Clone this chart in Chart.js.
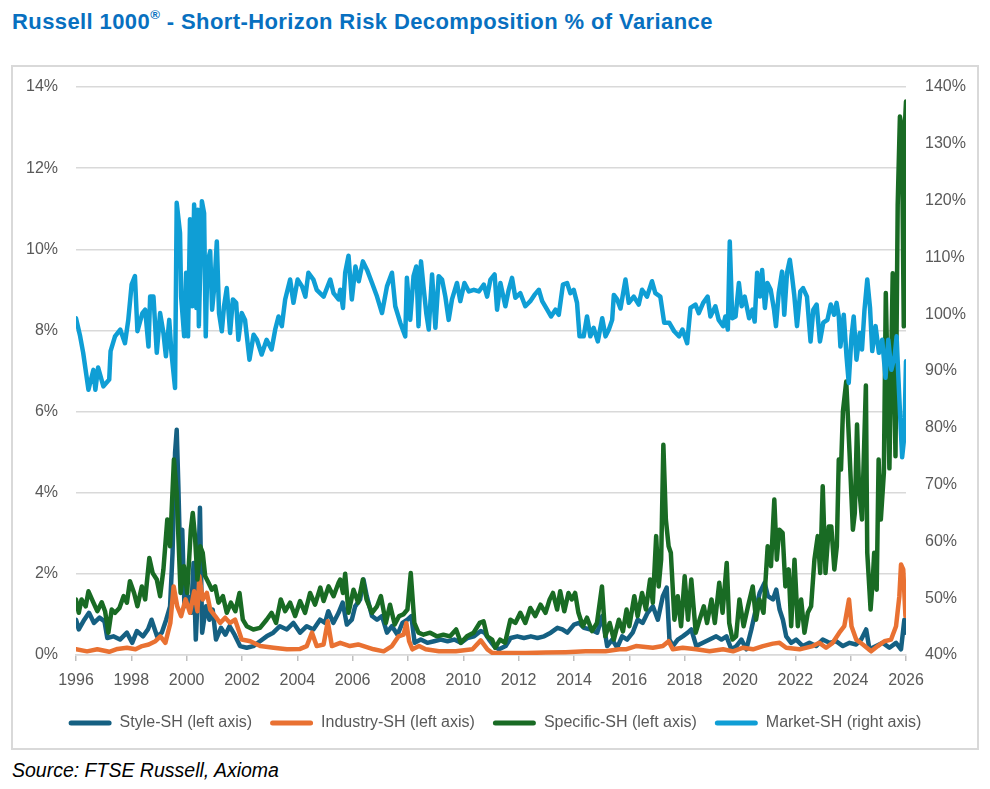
<!DOCTYPE html>
<html>
<head>
<meta charset="utf-8">
<title>Russell 1000 - Short-Horizon Risk Decomposition</title>
<script src="https://cdn.jsdelivr.net/npm/chart.js@4.4.1/dist/chart.umd.min.js"></script>
<style>
    html, body { margin: 0; padding: 0; background: #fff; }
    body { width: 990px; height: 789px; position: relative; overflow: hidden; font-family: "Liberation Sans", Arial, sans-serif; }
    #title { position: absolute; left: 12px; top: 11px; font-size: 22px; line-height: 22px; letter-spacing: 0.4px; font-weight: bold; color: #0870c0; white-space: nowrap; }
    #title sup { font-size: 0.6em; line-height: 0; vertical-align: 0.75em; }
    #box { position: absolute; left: 11px; top: 65px; width: 968px; height: 685px; border: 2px solid #d9d9d9; box-sizing: border-box; }
    #chart { position: absolute; left: 0; top: 0; }
    #source { position: absolute; left: 12px; top: 760px; font-size: 19.5px; line-height: 20px; font-style: italic; color: #000; white-space: nowrap; }
</style>
</head>
<body>
<div id="title">Russell 1000<sup>®</sup> - Short-Horizon Risk Decomposition % of Variance</div>
<div id="box"><canvas id="chart" width="964" height="681"></canvas></div>
<div id="source">Source: FTSE Russell, Axioma</div>
<script>
// x = date as decimal year, y = % of variance
const styleSH = [
    [1996.00,0.87],[1996.10,0.63],[1996.30,0.87],[1996.47,1.04],[1996.65,0.79],[1996.85,0.92],[1997.03,0.83],[1997.13,0.42],
    [1997.35,0.46],[1997.59,0.38],[1997.84,0.55],[1998.03,0.30],[1998.20,0.59],[1998.42,0.46],[1998.60,0.63],[1998.73,0.87],
    [1998.93,0.46],[1999.10,0.55],[1999.26,0.87],[1999.40,1.20],[1999.49,2.52],[1999.58,4.98],[1999.64,5.55],[1999.70,4.16],
    [1999.76,2.52],[1999.84,3.09],[1999.92,1.20],[2000.04,1.45],[2000.16,1.04],[2000.25,2.27],[2000.33,0.38],[2000.40,1.45],
    [2000.48,3.63],[2000.56,0.55],[2000.70,1.20],[2000.82,0.87],[2000.94,1.12],[2001.06,0.38],[2001.24,0.67],[2001.40,0.50],
    [2001.55,0.71],[2001.73,0.50],[2001.93,0.22],[2002.17,0.18],[2002.41,0.22],[2002.65,0.34],[2002.89,0.46],[2003.13,0.55],
    [2003.37,0.71],[2003.62,0.63],[2003.86,0.79],[2004.10,0.55],[2004.34,0.71],[2004.58,0.63],[2004.82,0.87],[2005.00,0.79],
    [2005.12,1.08],[2005.30,0.79],[2005.49,1.04],[2005.64,1.29],[2005.79,0.75],[2005.97,0.87],[2006.09,1.20],[2006.27,1.37],
    [2006.39,1.86],[2006.51,1.45],[2006.70,0.96],[2006.88,0.87],[2007.06,0.96],[2007.24,0.55],[2007.42,0.71],[2007.62,0.50],
    [2007.80,0.79],[2007.98,0.87],[2008.12,0.96],[2008.24,0.30],[2008.46,0.38],[2008.70,0.30],[2008.94,0.34],[2009.18,0.38],
    [2009.43,0.34],[2009.67,0.38],[2009.91,0.30],[2010.15,0.42],[2010.39,0.46],[2010.63,0.59],[2010.77,0.55],[2010.93,0.38],
    [2011.11,0.22],[2011.29,0.14],[2011.53,0.22],[2011.71,0.42],[2011.95,0.46],[2012.19,0.42],[2012.44,0.46],[2012.68,0.42],
    [2012.92,0.46],[2013.16,0.55],[2013.40,0.67],[2013.58,0.63],[2013.76,0.55],[2014.00,0.75],[2014.18,0.79],[2014.36,0.67],
    [2014.60,0.63],[2014.84,0.55],[2015.02,0.96],[2015.20,0.22],[2015.38,0.38],[2015.56,0.18],[2015.74,0.46],[2015.92,0.38],
    [2016.12,0.55],[2016.30,0.87],[2016.48,0.79],[2016.66,1.04],[2016.85,1.20],[2017.03,0.87],[2017.21,1.45],[2017.35,1.66],
    [2017.45,0.38],[2017.57,0.22],[2017.75,0.38],[2017.93,0.46],[2018.11,0.55],[2018.24,0.63],[2018.42,0.22],[2018.66,0.30],
    [2018.90,0.38],[2019.14,0.46],[2019.33,0.38],[2019.51,0.46],[2019.69,0.14],[2019.87,0.22],[2020.05,0.38],[2020.23,0.14],
    [2020.41,0.63],[2020.53,1.00],[2020.71,1.53],[2020.89,1.78],[2021.01,1.45],[2021.19,1.37],[2021.31,1.61],[2021.43,1.12],
    [2021.55,0.87],[2021.67,0.46],[2021.85,0.30],[2022.03,0.38],[2022.27,0.22],[2022.51,0.30],[2022.75,0.22],[2022.99,0.38],
    [2023.23,0.30],[2023.47,0.34],[2023.72,0.22],[2023.96,0.30],[2024.20,0.26],[2024.38,0.38],[2024.56,0.63],[2024.68,0.14],
    [2024.92,0.22],[2025.16,0.30],[2025.40,0.18],[2025.64,0.30],[2025.82,0.14],[2025.94,0.87],[2026.00,0.55]
]

const industrySH = [
    [1996.00,0.14],[1996.40,0.09],[1996.77,0.14],[1997.20,0.08],[1997.50,0.15],[1997.84,0.18],[1998.15,0.14],[1998.39,0.22],
    [1998.63,0.26],[1998.87,0.34],[1999.05,0.46],[1999.23,0.30],[1999.41,0.79],[1999.53,1.69],[1999.66,1.20],[1999.80,0.96],
    [1999.96,1.37],[2000.12,1.04],[2000.27,1.57],[2000.39,1.08],[2000.46,1.94],[2000.58,1.37],[2000.73,1.53],[2000.85,1.12],
    [2001.03,0.96],[2001.21,0.79],[2001.39,0.92],[2001.57,0.79],[2001.75,0.87],[2001.87,0.63],[2001.99,0.38],[2002.30,0.34],
    [2002.66,0.22],[2003.14,0.18],[2003.62,0.14],[2004.10,0.15],[2004.34,0.22],[2004.53,0.55],[2004.70,0.22],[2004.95,0.26],
    [2005.10,0.83],[2005.25,0.22],[2005.55,0.30],[2005.90,0.22],[2006.20,0.26],[2006.76,0.14],[2007.12,0.09],[2007.42,0.22],
    [2007.66,0.46],[2007.84,0.50],[2007.94,0.79],[2008.04,0.34],[2008.16,0.14],[2008.40,0.22],[2008.64,0.14],[2009.12,0.09],
    [2009.73,0.09],[2010.33,0.14],[2010.63,0.36],[2010.87,0.14],[2011.05,0.05],[2011.53,0.05],[2012.26,0.05],[2012.98,0.06],
    [2013.70,0.07],[2014.42,0.09],[2015.14,0.09],[2015.64,0.14],[2015.87,0.14],[2016.24,0.22],[2016.85,0.18],[2017.21,0.22],
    [2017.42,0.34],[2017.57,0.14],[2017.93,0.18],[2018.42,0.14],[2018.90,0.09],[2019.39,0.14],[2019.75,0.09],[2020.11,0.18],
    [2020.47,0.14],[2020.83,0.22],[2021.19,0.28],[2021.43,0.30],[2021.67,0.18],[2022.15,0.14],[2022.63,0.22],[2022.87,0.30],
    [2023.11,0.18],[2023.35,0.30],[2023.59,0.55],[2023.77,0.71],[2023.94,1.37],[2024.03,0.71],[2024.20,0.38],[2024.44,0.26],
    [2024.74,0.09],[2024.98,0.22],[2025.22,0.34],[2025.46,0.38],[2025.64,0.71],[2025.76,1.45],[2025.82,2.23],[2025.90,2.11],
    [2025.98,0.96],[2026.00,1.80]
]

const specificSH = [
    [1996.00,1.37],[1996.10,1.04],[1996.20,1.37],[1996.35,1.20],[1996.45,1.57],[1996.63,1.29],[1996.77,1.08],[1996.93,1.30],
    [1997.05,1.08],[1997.17,0.55],[1997.29,1.12],[1997.41,1.04],[1997.57,1.16],[1997.72,1.45],[1997.84,1.29],[1997.95,1.82],
    [1998.10,1.53],[1998.22,1.20],[1998.38,1.69],[1998.50,1.37],[1998.65,2.39],[1998.77,2.02],[1998.92,1.86],[1999.04,1.45],
    [1999.16,2.11],[1999.30,3.34],[1999.40,2.68],[1999.54,4.82],[1999.64,4.00],[1999.70,2.93],[1999.78,1.53],[1999.90,2.19],
    [2000.02,1.53],[2000.15,3.09],[2000.22,3.50],[2000.30,2.93],[2000.39,1.86],[2000.49,2.68],[2000.58,2.52],[2000.67,1.94],
    [2000.79,1.78],[2000.91,1.61],[2001.03,1.69],[2001.15,1.29],[2001.31,1.45],[2001.45,1.04],[2001.60,1.29],[2001.76,1.08],
    [2001.91,1.53],[2002.03,0.87],[2002.17,0.71],[2002.41,0.63],[2002.65,0.67],[2002.89,0.87],[2003.07,1.04],[2003.23,0.79],
    [2003.40,1.37],[2003.56,1.08],[2003.74,1.29],[2003.92,0.96],[2004.10,1.33],[2004.28,1.04],[2004.46,1.53],[2004.64,1.24],
    [2004.83,1.66],[2004.95,1.33],[2005.13,1.69],[2005.31,1.45],[2005.49,1.78],[2005.55,1.86],[2005.65,1.53],[2005.73,2.00],
    [2005.85,1.04],[2006.03,1.61],[2006.20,1.29],[2006.37,1.86],[2006.50,1.37],[2006.70,1.04],[2006.88,1.20],[2007.02,1.45],
    [2007.20,0.79],[2007.35,1.24],[2007.52,0.75],[2007.68,0.96],[2007.83,1.00],[2007.98,1.12],[2008.10,2.02],[2008.23,0.79],
    [2008.38,0.55],[2008.56,0.50],[2008.80,0.55],[2009.04,0.46],[2009.28,0.50],[2009.52,0.46],[2009.74,0.63],[2009.91,0.30],
    [2010.13,0.46],[2010.37,0.55],[2010.59,0.79],[2010.73,0.83],[2010.86,0.46],[2011.04,0.38],[2011.15,0.18],[2011.33,0.38],
    [2011.51,0.30],[2011.70,0.87],[2011.88,0.79],[2012.06,1.04],[2012.24,0.79],[2012.42,1.16],[2012.60,0.96],[2012.79,1.24],
    [2012.97,1.04],[2013.12,1.37],[2013.24,1.53],[2013.39,1.12],[2013.50,1.57],[2013.65,1.08],[2013.80,1.53],[2013.92,1.37],
    [2014.04,1.53],[2014.16,1.04],[2014.32,0.71],[2014.47,0.92],[2014.65,0.59],[2014.83,0.79],[2015.01,1.69],[2015.13,0.46],
    [2015.29,0.79],[2015.44,0.38],[2015.62,0.87],[2015.77,0.58],[2015.90,1.12],[2016.00,0.71],[2016.18,1.45],[2016.30,0.96],
    [2016.46,1.53],[2016.60,1.12],[2016.75,1.86],[2016.85,1.29],[2016.97,2.93],[2017.06,1.69],[2017.15,2.35],[2017.23,5.18],
    [2017.32,3.34],[2017.42,2.68],[2017.50,2.52],[2017.63,0.87],[2017.75,1.45],[2017.87,0.71],[2018.00,1.94],[2018.12,0.87],
    [2018.24,1.86],[2018.40,0.55],[2018.54,0.87],[2018.69,1.20],[2018.81,0.79],[2018.97,1.37],[2019.09,0.79],[2019.25,1.78],
    [2019.37,1.04],[2019.52,2.27],[2019.61,0.79],[2019.73,0.38],[2019.86,0.46],[2019.98,1.37],[2020.13,0.71],[2020.29,1.20],
    [2020.46,1.69],[2020.58,0.87],[2020.70,1.37],[2020.85,1.04],[2021.00,2.68],[2021.12,2.19],[2021.24,3.83],[2021.33,2.35],
    [2021.42,3.09],[2021.54,3.01],[2021.64,1.69],[2021.76,2.11],[2021.85,0.71],[2021.97,2.35],[2022.09,0.71],[2022.21,1.37],
    [2022.33,0.55],[2022.45,1.04],[2022.57,1.20],[2022.69,2.35],[2022.81,2.93],[2022.90,2.02],[2022.99,4.16],[2023.09,2.02],
    [2023.21,3.17],[2023.30,3.17],[2023.41,2.11],[2023.50,2.68],[2023.57,4.82],[2023.65,4.57],[2023.72,6.00],[2023.84,6.74],
    [2023.96,4.98],[2024.08,3.09],[2024.15,3.50],[2024.23,5.68],[2024.30,4.16],[2024.41,3.34],[2024.55,6.64],[2024.60,2.52],
    [2024.72,1.12],[2024.80,1.86],[2024.85,2.52],[2024.94,1.61],[2025.01,4.82],[2025.09,3.34],[2025.20,4.49],[2025.27,8.92],
    [2025.40,4.60],[2025.52,9.41],[2025.62,4.90],[2025.70,11.10],[2025.78,13.27],[2025.85,13.00],[2025.92,8.10],[2025.97,13.20],
    [2026.00,13.64]
]

const marketSH = [
    [1996.00,99.3],[1996.15,96.1],[1996.26,93.2],[1996.45,86.7],[1996.63,90.2],[1996.70,86.7],[1996.80,90.6],[1996.99,87.3],
    [1997.20,88.5],[1997.25,93.5],[1997.41,96.1],[1997.60,97.3],[1997.77,94.9],[1997.89,99.0],[1998.01,105.2],[1998.13,106.7],
    [1998.22,97.0],[1998.40,100.2],[1998.50,100.8],[1998.62,94.3],[1998.68,103.1],[1998.80,103.1],[1998.92,93.2],[1999.04,100.2],
    [1999.16,96.7],[1999.25,92.6],[1999.37,99.0],[1999.45,93.2],[1999.58,87.0],[1999.64,119.6],[1999.76,114.3],[1999.80,103.1],
    [1999.91,96.1],[1999.98,107.3],[2000.05,96.1],[2000.12,116.7],[2000.20,101.4],[2000.27,119.3],[2000.35,101.1],[2000.40,118.4],
    [2000.44,97.9],[2000.55,119.9],[2000.63,117.8],[2000.69,96.1],[2000.75,109.0],[2000.85,111.1],[2000.92,100.8],[2001.00,104.9],
    [2001.09,112.8],[2001.17,100.2],[2001.27,97.0],[2001.35,101.4],[2001.45,104.6],[2001.57,96.7],[2001.67,102.6],[2001.79,102.0],
    [2001.87,95.5],[2001.99,100.2],[2002.11,99.0],[2002.27,92.0],[2002.42,96.4],[2002.54,95.5],[2002.71,92.9],[2002.89,95.5],
    [2003.07,93.8],[2003.20,97.3],[2003.32,99.6],[2003.44,97.9],[2003.56,102.6],[2003.74,106.1],[2003.86,102.0],[2004.01,106.1],
    [2004.17,104.9],[2004.29,103.1],[2004.40,107.3],[2004.58,106.1],[2004.70,104.3],[2004.95,103.1],[2005.19,106.1],[2005.31,103.7],
    [2005.49,102.6],[2005.55,104.3],[2005.65,101.1],[2005.73,107.3],[2005.85,110.3],[2005.97,102.6],[2006.10,108.4],[2006.22,105.8],
    [2006.37,109.3],[2006.52,107.8],[2006.70,105.5],[2006.88,103.1],[2007.06,100.2],[2007.24,104.9],[2007.42,107.3],[2007.54,101.4],
    [2007.72,98.5],[2007.90,96.1],[2007.96,106.4],[2008.08,99.0],[2008.20,106.7],[2008.30,108.4],[2008.38,97.9],[2008.47,109.3],
    [2008.56,104.9],[2008.66,100.2],[2008.75,97.3],[2008.87,107.0],[2008.99,97.6],[2009.11,106.7],[2009.23,106.1],[2009.35,103.1],
    [2009.47,99.0],[2009.59,102.6],[2009.77,105.5],[2009.89,102.3],[2010.04,105.5],[2010.20,104.0],[2010.38,104.3],[2010.56,104.0],
    [2010.74,105.2],[2010.86,103.1],[2010.98,106.1],[2011.13,107.0],[2011.22,100.8],[2011.34,105.5],[2011.52,101.4],[2011.64,104.3],
    [2011.76,106.4],[2011.88,102.9],[2012.06,103.7],[2012.24,101.4],[2012.42,102.3],[2012.57,103.4],[2012.73,104.3],[2012.85,102.3],
    [2013.03,100.8],[2013.17,99.6],[2013.33,100.8],[2013.45,99.9],[2013.60,105.2],[2013.75,105.5],[2013.87,103.7],[2013.99,104.3],
    [2014.11,102.0],[2014.20,96.1],[2014.35,96.1],[2014.47,99.6],[2014.59,96.1],[2014.71,97.6],[2014.86,95.2],[2015.02,99.3],
    [2015.14,96.1],[2015.26,97.3],[2015.38,99.0],[2015.44,103.4],[2015.56,102.6],[2015.68,101.0],[2015.86,106.1],[2015.98,102.0],
    [2016.16,103.1],[2016.34,101.7],[2016.46,104.3],[2016.64,103.1],[2016.82,105.8],[2016.94,103.7],[2017.12,103.1],[2017.26,98.5],
    [2017.44,98.5],[2017.62,97.0],[2017.80,96.1],[2017.92,97.3],[2018.09,94.9],[2018.21,101.1],[2018.39,101.7],[2018.51,100.2],
    [2018.67,102.0],[2018.83,103.1],[2018.93,99.6],[2019.11,101.4],[2019.23,99.0],[2019.39,97.9],[2019.47,99.6],[2019.56,97.3],
    [2019.63,112.8],[2019.72,99.3],[2019.84,99.6],[2019.96,105.5],[2020.06,101.4],[2020.17,103.1],[2020.33,99.3],[2020.45,100.8],
    [2020.53,98.7],[2020.62,107.3],[2020.72,103.1],[2020.80,107.8],[2020.90,101.1],[2020.99,105.5],[2021.11,104.3],[2021.23,100.8],
    [2021.30,97.9],[2021.40,103.7],[2021.52,107.5],[2021.60,99.9],[2021.70,107.3],[2021.80,109.6],[2021.88,106.7],[2021.96,103.4],
    [2022.06,97.9],[2022.18,104.0],[2022.28,104.6],[2022.42,103.1],[2022.55,95.2],[2022.65,100.8],[2022.77,101.7],[2022.89,95.2],
    [2023.01,98.5],[2023.16,99.0],[2023.28,101.7],[2023.40,99.9],[2023.49,102.0],[2023.57,99.6],[2023.63,94.3],[2023.75,99.9],
    [2023.85,92.6],[2023.93,87.9],[2024.03,96.1],[2024.11,99.6],[2024.21,92.0],[2024.33,96.7],[2024.41,93.8],[2024.50,100.8],
    [2024.60,106.1],[2024.70,101.1],[2024.78,93.5],[2024.90,97.9],[2025.02,93.2],[2025.14,95.5],[2025.26,88.8],[2025.36,95.5],
    [2025.47,90.2],[2025.59,92.6],[2025.66,96.1],[2025.75,86.1],[2025.86,74.8],[2025.94,78.5],[2026.00,91.7]
]

const seriesNames = ['Style-SH (left axis)', 'Industry-SH (left axis)', 'Specific-SH (left axis)', 'Market-SH (right axis)']
const seriesColors = ['#156082', '#e97132', '#196b24', '#0f9ed5']
const yearTicks = [1996, 2026, 2]
const leftTicks = [0, 14, 2]
const rightTicks = [40, 140, 10]

function toPoints(pairs) {
    return pairs.map(p => ({ x: p[0], y: p[1] }))
}

function makeDataset(i, pairs, axis, order) {
    return {
        label: seriesNames[i],
        data: toPoints(pairs),
        yAxisID: axis,
        borderColor: seriesColors[i],
        backgroundColor: seriesColors[i],
        borderWidth: 4.5,
        pointRadius: 0,
        pointHoverRadius: 0,
        tension: 0,
        borderJoinStyle: 'round',
        borderCapStyle: 'round',
        order: order
    }
}

Chart.defaults.font.family = "'Liberation Sans', Arial, sans-serif"
Chart.defaults.font.size = 16
Chart.defaults.color = '#595959'

const ctx = document.getElementById('chart').getContext('2d')

// order: Market on top, Style at the bottom (like the workbook draws them)
// the gap between y labels and plot is made of an invisible tick + small padding,
// because a big ticks.padding also pushes the plot top down
const config = {
    type: 'line',
    data: {
        datasets: [
            makeDataset(0, styleSH, 'y', 4),
            makeDataset(1, industrySH, 'y', 3),
            makeDataset(2, specificSH, 'y', 2),
            makeDataset(3, marketSH, 'y1', 1)
        ]
    },
    options: {
        responsive: false,
        animation: false,
        events: [],
        layout: { padding: { top: 20, left: 0, right: 0, bottom: 7 } },
        scales: {
            x: {
                type: 'linear',
                min: yearTicks[0],
                max: yearTicks[1],
                afterFit: s => { s.height = 42 },
                ticks: { stepSize: yearTicks[2], padding: 10, maxRotation: 0, callback: v => String(v) },
                grid: { drawOnChartArea: false, drawTicks: true, tickLength: 6, color: '#bfbfbf', lineWidth: 1.5 },
                border: { display: true, color: '#d9d9d9', width: 1.5 }
            },
            y: {
                position: 'left',
                min: leftTicks[0],
                max: leftTicks[1],
                afterFit: s => { s.width = 63 },
                ticks: { stepSize: leftTicks[2], padding: 8, callback: v => v + '%' },
                grid: { color: '#d9d9d9', lineWidth: 1.5, drawTicks: true, tickLength: 10, tickColor: 'rgba(0,0,0,0)' },
                border: { display: false }
            },
            y1: {
                position: 'right',
                min: rightTicks[0],
                max: rightTicks[1],
                afterFit: s => { s.width = 71 },
                ticks: { stepSize: rightTicks[2], padding: 8, callback: v => v + '%' },
                grid: { drawOnChartArea: false, drawTicks: true, tickLength: 11, tickColor: 'rgba(0,0,0,0)' },
                border: { display: false }
            }
        },
        plugins: {
            tooltip: { enabled: false },
            legend: {
                position: 'bottom',
                labels: {
                    boxWidth: 43,
                    boxHeight: 5,
                    padding: 18,
                    useBorderRadius: true,
                    borderRadius: 2.5,
                    color: '#595959',
                    sort: (a, b) => a.datasetIndex - b.datasetIndex,
                    generateLabels: chart => Chart.defaults.plugins.legend.labels.generateLabels(chart).map(l => {
                        l.lineWidth = 0
                        return l
                    })
                }
            }
        }
    }
}

let myChart = new Chart(ctx, config)
</script>
</body>
</html>
